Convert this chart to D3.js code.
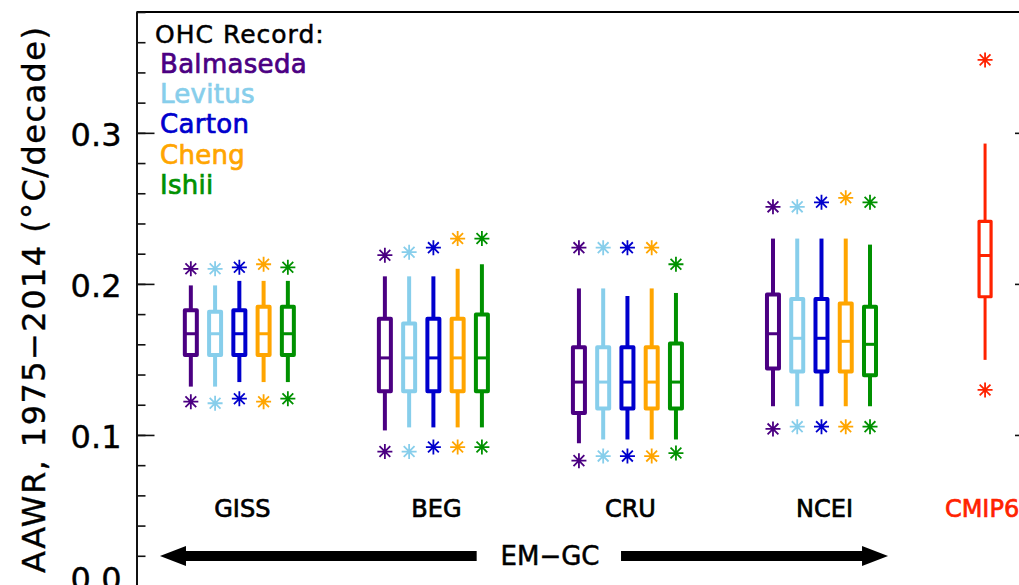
<!DOCTYPE html>
<html>
<head>
<meta charset="utf-8">
<script src="https://cdn.jsdelivr.net/npm/d3@7"></script>
<style>
  body { margin: 0; background: #fff; }
  svg { display: block; }
  text { font-family: "DejaVu Sans", sans-serif; }
</style>
</head>
<body>
<svg id="chart" width="1019" height="585"></svg>
<script>
// Temperature data products evaluated with the EM-GC model
const products = ["GISS", "BEG", "CRU", "NCEI"];
const productPos = [1, 2, 3, 4];

// Ocean heat content records (one box per record within each product)
const records = ["Balmaseda", "Levitus", "Carton", "Cheng", "Ishii"];
const recordOffset = [-0.25, -0.125, 0, 0.125, 0.25];

// AAWR statistics, rows = products, columns = OHC records (°C/decade)
const upperStar = [
  [0.210, 0.210, 0.211, 0.213, 0.211],
  [0.219, 0.221, 0.224, 0.230, 0.230],
  [0.224, 0.224, 0.224, 0.224, 0.213],
  [0.251, 0.251, 0.254, 0.257, 0.254]
];
const upperWhisker = [
  [0.199, 0.199, 0.202, 0.202, 0.202],
  [0.205, 0.205, 0.205, 0.210, 0.213],
  [0.197, 0.197, 0.192, 0.197, 0.194],
  [0.230, 0.230, 0.230, 0.230, 0.226]
];
const upperQuartile = [
  [0.1826, 0.1815, 0.1826, 0.1848, 0.1848],
  [0.1770, 0.1737, 0.1770, 0.1770, 0.1797],
  [0.1580, 0.1580, 0.1580, 0.1580, 0.1605],
  [0.1930, 0.1900, 0.1900, 0.1870, 0.1848]
];
const median = [
  [0.167, 0.167, 0.167, 0.167, 0.167],
  [0.151, 0.151, 0.151, 0.151, 0.151],
  [0.135, 0.135, 0.135, 0.135, 0.135],
  [0.167, 0.164, 0.164, 0.162, 0.160]
];
const lowerQuartile = [
  [0.1530, 0.1530, 0.1530, 0.1530, 0.1530],
  [0.1290, 0.1290, 0.1290, 0.1290, 0.1290],
  [0.1145, 0.1175, 0.1175, 0.1175, 0.1175],
  [0.1440, 0.1420, 0.1420, 0.1420, 0.1395]
];
const lowerWhisker = [
  [0.132, 0.132, 0.135, 0.135, 0.135],
  [0.103, 0.105, 0.105, 0.105, 0.105],
  [0.0945, 0.097, 0.097, 0.097, 0.097],
  [0.119, 0.119, 0.119, 0.119, 0.119]
];
const lowerStar = [
  [0.122, 0.121, 0.124, 0.122, 0.124],
  [0.089, 0.089, 0.092, 0.092, 0.092],
  [0.083, 0.086, 0.086, 0.086, 0.088],
  [0.104, 0.1055, 0.1055, 0.1055, 0.1055]
];

// CMIP6 multi-model ensemble: lowStar, lowWhisker, q1, median, q3, highWhisker, highStar
const cmip6Label = "CMIP6";
const cmip6Pos = 4.843;
const cmip6Stats = [0.1298, 0.1497, 0.1915, 0.2188, 0.2414, 0.2929, 0.3483];

// Axis ticks
const majorTicks = [0.0, 0.1, 0.2, 0.3];
const minorTicks = d3.range(0, 0.3801, 0.02);

const recordColor = d3.scaleOrdinal(records,
  ["#4b0082", "#87ceeb", "#0000cd", "#ffa500", "#009100"]);
const cmip6Color = "#ff2200";

const svg = d3.select("#chart");

const x = d3.scaleLinear().domain([0.47, 5.09]).range([136.5, 1033]);
const y = d3.scaleLinear().domain([0, 0.38]).range([586, 12]);

// ---- frame and axes ----
svg.append("line")
  .attr("x1", x.range()[0]).attr("x2", x.range()[1])
  .attr("y1", y(0.38)).attr("y2", y(0.38))
  .attr("stroke", "#000").attr("stroke-width", 2);

function styleAxis(g) {
  g.select(".domain").attr("stroke", "#111").attr("stroke-width", 2);
  g.selectAll(".tick line").attr("stroke", "#111").attr("stroke-width", 1.6);
}

const leftMinor = d3.axisLeft(y).tickValues(minorTicks)
  .tickSizeInner(-9).tickSizeOuter(0).tickFormat("");
svg.append("g").attr("transform", `translate(${x.range()[0]},0)`)
  .call(leftMinor).call(styleAxis);

const leftMajor = d3.axisLeft(y).tickValues(majorTicks)
  .tickSizeInner(-18).tickSizeOuter(0).tickPadding(15).tickFormat(d3.format(".1f"));
svg.append("g").attr("transform", `translate(${x.range()[0]},0)`)
  .call(leftMajor).call(styleAxis)
  .call(g => g.selectAll(".tick text")
    .attr("font-size", 32).attr("fill", "#000")
    .attr("stroke", "#000").attr("stroke-width", 0.4)
    .attr("dy", d => d === 0 ? "0.1em" : "0.4em")
    .style("font-family", '"DejaVu Sans", sans-serif'));

const rightMinor = d3.axisRight(y).tickValues(minorTicks)
  .tickSizeInner(-9).tickSizeOuter(0).tickFormat("");
svg.append("g").attr("transform", `translate(${x.range()[1]},0)`)
  .call(rightMinor).call(styleAxis);
const rightMajor = d3.axisRight(y).tickValues(majorTicks)
  .tickSizeInner(-18).tickSizeOuter(0).tickFormat("");
svg.append("g").attr("transform", `translate(${x.range()[1]},0)`)
  .call(rightMajor).call(styleAxis);

// y-axis title
svg.append("text")
  .attr("transform", `translate(45,${(27 + 573) / 2}) rotate(-90)`)
  .attr("text-anchor", "middle")
  .attr("font-size", 32)
  .attr("stroke", "#000").attr("stroke-width", 0.4)
  .attr("textLength", 546)
  .attr("lengthAdjust", "spacing")
  .text("AAWR, 1975\u22122014 (\u00B0C/decade)");

// ---- asterisk marker ----
function asterisk(r) {
  const d = r * 0.72;
  return `M0,${-r}L0,${r}M${-r},0L${r},0M${-d},${-d}L${d},${d}M${-d},${d}L${d},${-d}`;
}

// ---- box plots for products x OHC records ----
const boxHalf = 6;
const cells = [];
products.forEach((p, gi) => {
  records.forEach((rec, ri) => {
    cells.push({
      product: p, record: rec,
      pos: productPos[gi] + recordOffset[ri],
      hiStar: upperStar[gi][ri], hiW: upperWhisker[gi][ri],
      q3: upperQuartile[gi][ri], med: median[gi][ri],
      q1: lowerQuartile[gi][ri], loW: lowerWhisker[gi][ri],
      loStar: lowerStar[gi][ri]
    });
  });
});

const boxes = svg.append("g").selectAll("g.box").data(cells).join("g")
  .attr("class", "box")
  .attr("transform", d => `translate(${x(d.pos)},0)`)
  .attr("stroke", d => recordColor(d.record))
  .attr("fill", "none");

boxes.append("line").attr("x1", 0).attr("x2", 0)
  .attr("y1", d => y(d.q3)).attr("y2", d => y(d.hiW)).attr("stroke-width", 4);
boxes.append("line").attr("x1", 0).attr("x2", 0)
  .attr("y1", d => y(d.q1)).attr("y2", d => y(d.loW)).attr("stroke-width", 4);
boxes.append("rect")
  .attr("x", -boxHalf).attr("width", boxHalf * 2)
  .attr("y", d => y(d.q3)).attr("height", d => y(d.q1) - y(d.q3))
  .attr("stroke-width", 4).attr("stroke-linejoin", "round");
boxes.append("line").attr("x1", -boxHalf).attr("x2", boxHalf)
  .attr("y1", d => y(d.med)).attr("y2", d => y(d.med)).attr("stroke-width", 3);
boxes.append("path").attr("d", asterisk(7.5)).attr("stroke-width", 1.8)
  .attr("transform", d => `translate(0,${y(d.hiStar)})`);
boxes.append("path").attr("d", asterisk(7.5)).attr("stroke-width", 1.8)
  .attr("transform", d => `translate(0,${y(d.loStar)})`);

// ---- CMIP6 box ----
const [cLoS, cLoW, cQ1, cMed, cQ3, cHiW, cHiS] = cmip6Stats;
const cm = svg.append("g").attr("transform", `translate(${x(cmip6Pos)},0)`)
  .attr("stroke", cmip6Color).attr("fill", "none");
cm.append("line").attr("y1", y(cQ3)).attr("y2", y(cHiW)).attr("stroke-width", 3);
cm.append("line").attr("y1", y(cQ1)).attr("y2", y(cLoW)).attr("stroke-width", 3);
cm.append("rect").attr("x", -boxHalf).attr("width", boxHalf * 2)
  .attr("y", y(cQ3)).attr("height", y(cQ1) - y(cQ3))
  .attr("stroke-width", 3.2).attr("stroke-linejoin", "round");
cm.append("line").attr("x1", -boxHalf).attr("x2", boxHalf)
  .attr("y1", y(cMed)).attr("y2", y(cMed)).attr("stroke-width", 3);
cm.append("path").attr("d", asterisk(7.5)).attr("stroke-width", 1.8)
  .attr("transform", `translate(0,${y(cHiS)})`);
cm.append("path").attr("d", asterisk(7.5)).attr("stroke-width", 1.8)
  .attr("transform", `translate(0,${y(cLoS)})`);

// ---- product labels ----
const labelLevel = 0.0457;
svg.append("g").selectAll("text").data(products).join("text")
  .attr("x", (d, i) => x(productPos[i]) + 3)
  .attr("y", y(labelLevel))
  .attr("text-anchor", "middle")
  .attr("font-size", 24)
  .attr("fill", "#000").attr("stroke", "#000").attr("stroke-width", 0.7)
  .text(d => d);
svg.append("text")
  .attr("x", x(cmip6Pos) - 3).attr("y", y(labelLevel))
  .attr("text-anchor", "middle").attr("font-size", 24)
  .attr("fill", cmip6Color).attr("stroke", cmip6Color).attr("stroke-width", 0.7)
  .text(cmip6Label);

// ---- EM-GC arrows ----
const arrowLevel = 0.0199;
const ay = y(arrowLevel);
const shaft = 10, headLen = 26, headHalf = 10;
function arrowPath(x0, x1) {
  // shaft from x0 to the head, tip at x1
  const dir = Math.sign(x1 - x0);
  const hb = x1 - dir * headLen;
  return `M${x0},${ay - shaft / 2}L${hb},${ay - shaft / 2}L${hb},${ay - headHalf}` +
         `L${x1},${ay}L${hb},${ay + headHalf}L${hb},${ay + shaft / 2}L${x0},${ay + shaft / 2}Z`;
}
svg.append("path").attr("d", arrowPath(x(2.223), x(0.591))).attr("fill", "#000");
svg.append("path").attr("d", arrowPath(x(2.967), x(4.343))).attr("fill", "#000");
svg.append("text")
  .attr("x", x(2.601)).attr("y", ay).attr("dy", "0.36em")
  .attr("text-anchor", "middle").attr("font-size", 26)
  .attr("stroke", "#000").attr("stroke-width", 0.5)
  .text("EM\u2212GC");

// ---- legend ----
const legend = svg.append("g");
legend.append("text")
  .attr("x", 155).attr("y", 43)
  .attr("font-size", 25).attr("letter-spacing", 1)
  .attr("stroke", "#000").attr("stroke-width", 0.5)
  .text("OHC Record:");
legend.selectAll("text.entry").data(records).join("text")
  .attr("class", "entry")
  .attr("x", 160).attr("y", (d, i) => 72.7 + i * 30.3)
  .attr("font-size", 26).attr("letter-spacing", 0.3)
  .attr("fill", d => recordColor(d))
  .attr("stroke", d => recordColor(d)).attr("stroke-width", 0.7)
  .text(d => d);
</script>
</body>
</html>
